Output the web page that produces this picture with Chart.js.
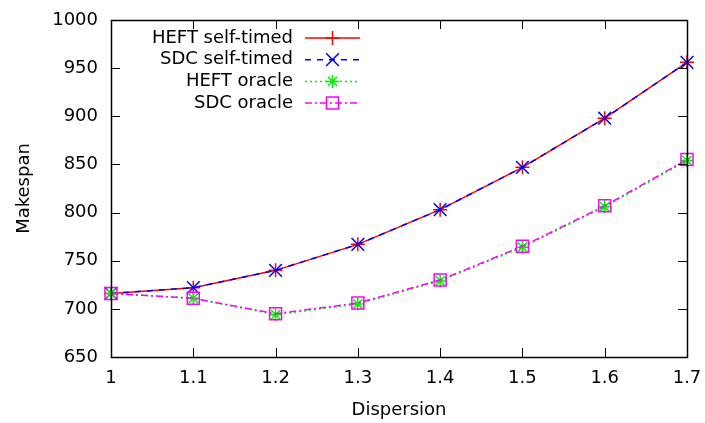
<!DOCTYPE html>
<html>
<head>
<meta charset="utf-8">
<script src="https://cdn.jsdelivr.net/npm/chart.js@4/dist/chart.umd.min.js"></script>
<style>
html,body{margin:0;padding:0;background:#fff;}
#wrap{width:705px;height:423px;}
</style>
</head>
<body>
<div id="wrap"><canvas id="c" width="705" height="423"></canvas></div>
<script>
const dispersion = ['1','1.1','1.2','1.3','1.4','1.5','1.6','1.7'];
const heftSelfTimed = [716, 722, 740, 767, 803, 847, 898, 956];
const sdcSelfTimed  = [716, 722, 740, 767, 803, 847, 898, 956];
const heftOracle    = [716, 711, 694, 705, 729, 764, 806, 854];
const sdcOracle     = [716, 711, 695, 706, 730, 765, 807, 855];
const yMin = 650, yMax = 1000, yStep = 50;

const FONT = 'DejaVu Sans';
const FS = 18;

const boxAndTicks = {
  id: 'boxAndTicks',
  afterDraw(chart) {
    const {ctx, chartArea: a, scales: {x, y}} = chart;
    ctx.save();
    ctx.strokeStyle = '#000';
    ctx.lineWidth = 1;
    const L = 9;
    ctx.beginPath();
    x.ticks.forEach((t, i) => {
      if (i === 0 || i === x.ticks.length - 1) return;
      const px = Math.round(x.getPixelForTick(i)) + 0.5;
      ctx.moveTo(px, a.bottom); ctx.lineTo(px, a.bottom - L);
      ctx.moveTo(px, a.top); ctx.lineTo(px, a.top + L);
    });
    y.ticks.forEach((t, i) => {
      if (i === 0 || i === y.ticks.length - 1) return;
      const py = Math.round(y.getPixelForValue(t.value)) + 0.5;
      ctx.moveTo(a.left, py); ctx.lineTo(a.left + L, py);
      ctx.moveTo(a.right, py); ctx.lineTo(a.right - L, py);
    });
    ctx.stroke();
    ctx.lineWidth = 1.5;
    ctx.strokeRect(Math.round(a.left)+0.5, Math.round(a.top)+0.5, Math.round(a.right - a.left), Math.round(a.bottom - a.top));
    ctx.restore();
  }
};

const keyLegend = {
  id: 'keyLegend',
  afterDraw(chart) {
    const ctx = chart.ctx;
    ctx.save();
    ctx.font = FS + 'px "' + FONT + '"';
    ctx.textAlign = 'right';
    ctx.textBaseline = 'middle';
    const textRight = 293, x0 = 305, x1 = 360, rowY0 = 38, rowH = 21.7;
    chart.data.datasets.forEach((ds, i) => {
      const yy = rowY0 + i * rowH;
      ctx.fillStyle = '#000';
      ctx.fillText(ds.label, textRight, yy);
      ctx.strokeStyle = ds.borderColor;
      ctx.lineWidth = ds.borderWidth;
      ctx.setLineDash(ds.borderDash || []);
      ctx.beginPath();
      ctx.moveTo(x0, yy); ctx.lineTo(x1, yy);
      ctx.stroke();
      ctx.setLineDash([]);
      ctx.fillStyle = 'rgba(0,0,0,0)';
      ctx.lineWidth = ds.pointBorderWidth;
      Chart.helpers.drawPoint(ctx, {
        pointStyle: ds.pointStyle, radius: ds.pointRadius, rotation: 0,
        borderWidth: ds.pointBorderWidth
      }, (x0 + x1) / 2, yy);
    });
    ctx.restore();
  }
};

const ds = (label, data, color, dash, style, radius, order) => ({
  label, data, order,
  borderColor: color, backgroundColor: 'rgba(0,0,0,0)',
  pointBorderColor: color, pointBackgroundColor: 'rgba(0,0,0,0)',
  borderWidth: 1.5, borderDash: dash,
  pointStyle: style, pointRadius: radius, pointHoverRadius: radius,
  pointBorderWidth: 1.5, tension: 0, fill: false
});

new Chart(document.getElementById('c'), {
  type: 'line',
  data: {
    labels: dispersion,
    datasets: [
      ds('HEFT self-timed', heftSelfTimed, '#ff0000', [], 'cross', 7, 3),
      ds('SDC self-timed', sdcSelfTimed, '#0000ff', [6, 6], 'crossRot', 9, 2),
      ds('HEFT oracle', heftOracle, '#00f000', [2, 3], 'star', 6.5, 1),
      ds('SDC oracle', sdcOracle, '#ff00ff', [7, 3, 2, 3], 'rect', 8.5, 0)
    ]
  },
  options: {
    responsive: false,
    animation: false,
    layout: {padding: {left: 14, top: 20, right: 18, bottom: 0}},
    plugins: {legend: {display: false}, tooltip: {enabled: false}},
    scales: {
      x: {
        type: 'category',
        offset: false,
        grid: {display: false, drawTicks: false},
        border: {display: false},
        ticks: {color: '#000', font: {family: FONT, size: FS}, padding: 11, maxRotation: 0, autoSkip: false},
        title: {display: true, text: 'Dispersion', color: '#000', font: {family: FONT, size: FS}, padding: {top: 5, bottom: 2}},
        afterFit(s) { s.height = 423 - 357; s.paddingRight = 0; s.paddingLeft = 0; }
      },
      y: {
        min: yMin, max: yMax,
        grid: {display: false, drawTicks: false},
        border: {display: false},
        ticks: {stepSize: yStep, color: '#000', font: {family: FONT, size: FS}, padding: 13,
                callback: v => String(v)},
        title: {display: true, text: 'Makespan', color: '#000', font: {family: FONT, size: FS}, padding: {top: 0, bottom: 4}},
        afterFit(s) { s.width = 97; s.paddingTop = 0; s.paddingBottom = 0; }
      }
    }
  },
  plugins: [boxAndTicks, keyLegend]
});
</script>
</body>
</html>
